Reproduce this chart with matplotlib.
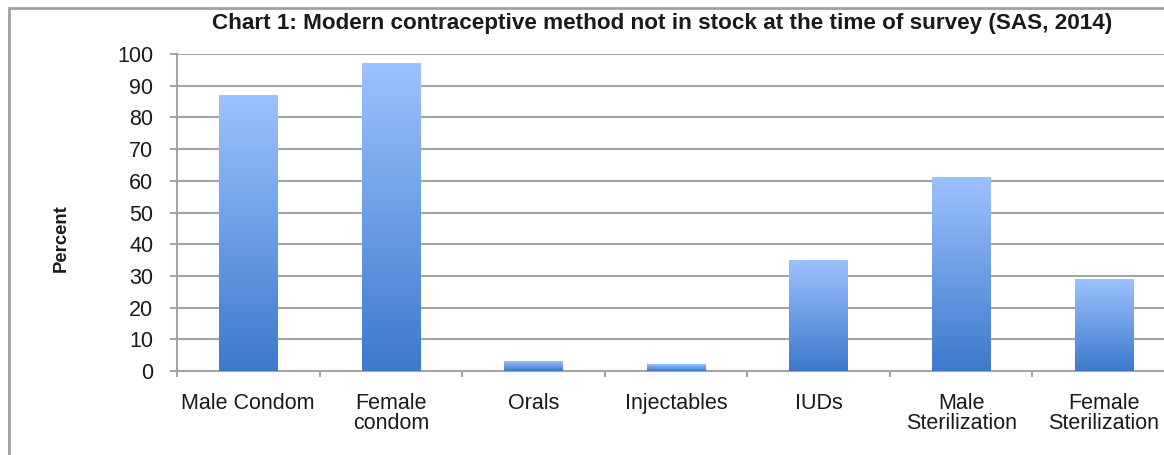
import numpy as np
import matplotlib.pyplot as plt
from matplotlib.colors import LinearSegmentedColormap
from matplotlib.patches import Rectangle

plt.rcParams['font.family'] = ['Liberation Sans', 'DejaVu Sans']

categories = ['Male Condom', 'Female\ncondom', 'Orals', 'Injectables', 'IUDs',
              'Male\nSterilization', 'Female\nSterilization']
percent = [87, 97, 3, 2, 35, 61, 29]
yticks = list(range(0, 101, 10))
title = 'Chart 1: Modern contraceptive method not in stock at the time of survey (SAS, 2014)'

fig = plt.figure(figsize=(11.64, 4.55), dpi=100)
ax = fig.add_axes([0.152, 0.1846, 0.8575, 0.6967])

grid_col = '#a4a4a4'
txt_col = '#1a1a1a'
cmap = LinearSegmentedColormap.from_list('bar', ['#3d79cc', '#9cc2fd'])
grad = np.linspace(0, 1, 256).reshape(-1, 1)
width = 0.41

x = np.arange(len(categories))
for xi, v in zip(x, percent):
    ax.imshow(grad, extent=[xi - width / 2, xi + width / 2, 0, v], origin='lower',
              cmap=cmap, aspect='auto', zorder=3, interpolation='bicubic')

ax.set_xlim(-0.5, len(categories) - 0.5)
ax.set_ylim(0, 100)
ax.set_yticks(yticks)
ax.set_yticklabels([str(t) for t in yticks], fontsize=15.5, color=txt_col)
ax.yaxis.grid(True, color=grid_col, lw=1.5, zorder=0)
ax.set_axisbelow(True)

ax.set_xticks(x)
ax.set_xticklabels(categories, fontsize=15.5, color=txt_col, linespacing=0.95)
ax.set_xticks(np.arange(-0.5, len(categories)), minor=True)
ax.tick_params(axis='x', which='major', length=0, pad=16)
ax.tick_params(axis='x', which='minor', length=4.5, width=1.5, color=grid_col)
ax.tick_params(axis='y', length=5, width=1.5, color=grid_col, pad=12)

for s in ['top', 'right']:
    ax.spines[s].set_visible(False)
ax.spines['left'].set_color(grid_col)
ax.spines['left'].set_linewidth(1.5)
ax.spines['bottom'].set_color(grid_col)
ax.spines['bottom'].set_linewidth(1.5)

ax.set_ylabel('Percent', fontsize=13.3, fontweight='bold', color=txt_col)
ax.yaxis.set_label_coords((70 - 177) / 998, (371 - 238) / 317)

fig.text(0.569, 0.949, title, ha='center', va='center', fontsize=16.2,
         fontweight='bold', color=txt_col)

fig.patches.append(Rectangle((9 / 1164, -0.1), 1.2, 1 - 8 / 455 + 0.1,
                             transform=fig.transFigure, fill=False,
                             edgecolor='#a0a0a0', lw=2))

fig.savefig('out.png', dpi=100)
